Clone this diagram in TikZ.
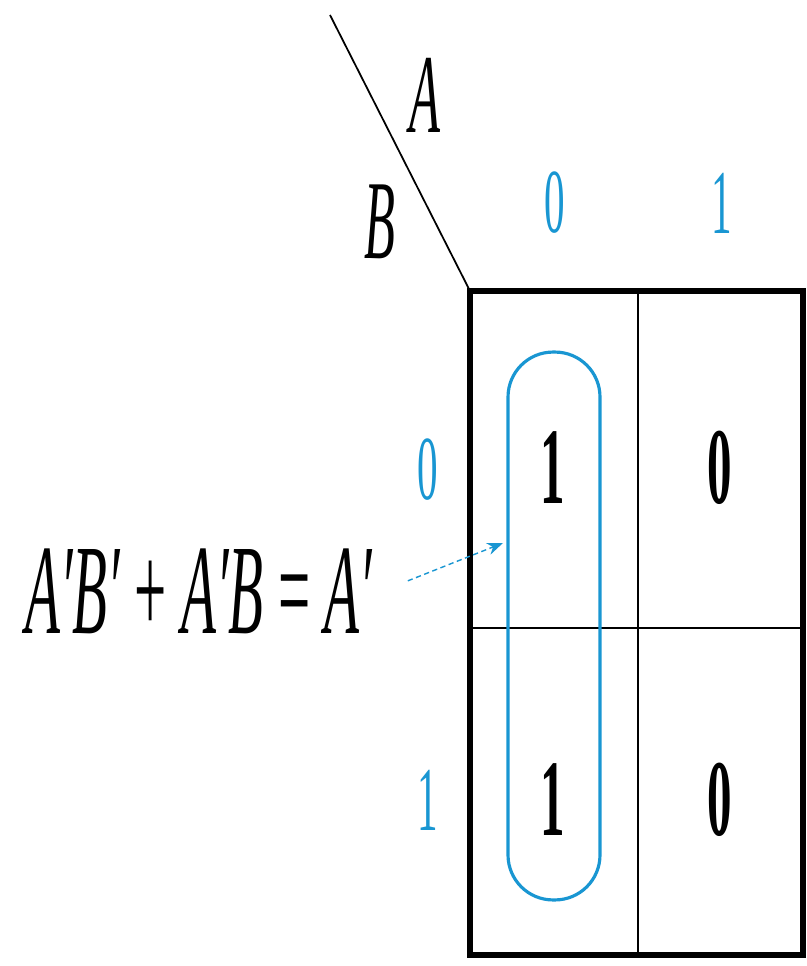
\documentclass[tikz,border=0pt]{standalone}
\usepackage{fontspec}
\setmainfont{Liberation Serif}
\usetikzlibrary{arrows.meta, positioning}
\definecolor{mapblue}{RGB}{25, 150, 210}

\begin{document}
\begin{tikzpicture}[
    x=0.02cm, y=-0.02cm,
    narrow/.style={xscale=0.45, inner sep=0pt},
    varlbl/.style={narrow, font=\fontsize{64}{70}\selectfont\itshape},
    headlbl/.style={narrow, font=\fontsize{52}{58}\selectfont, text=mapblue},
    cellval/.style={narrow, font=\fontsize{62}{68}\selectfont\bfseries},
    grouploop/.style={draw=mapblue, line width=1.8pt, rounded corners=0.9cm, minimum width=1.84cm, minimum height=10.96cm},
    arr/.style={-{Stealth[length=9pt, width=7pt]}, thick, densely dashed, color=mapblue}
  ]
  \useasboundingbox (0,0) rectangle (807,966);

  % map frame
  \draw[line width=1pt] (330,15) -- (470,291);
  \draw[line width=1.5pt] (638,291) -- (638,955);
  \draw[line width=1.5pt] (470,628) -- (803,628);
  \draw[line width=3.2pt] (470,291) rectangle (803,955);

  % variables and headers
  \node[varlbl] (varA) at (425,95) {A};
  \node[varlbl] (varB) at (380,222) {B};
  \node[headlbl] (col0) at (555,203) {0};
  \node[headlbl] (col1) at (722,203) {1};
  \node[headlbl] (row0) at (428,470) {0};
  \node[headlbl] (row1) at (428,800) {1};

  % cells
  \node[cellval] (m00) at (553,468) {1};
  \node[cellval] (m01) at (720,468) {0};
  \node[cellval] (m10) at (553,800) {1};
  \node[cellval] (m11) at (720,800) {0};

  % grouping
  \node[grouploop] (grp) at (554,626) {};
  \node[narrow, xscale=0.99, font=\fontsize{73}{80}\selectfont, anchor=base west] (eq) at (25,633)
    {\textit{A′B′} + \textit{A′B} = \textit{A′}};
  \coordinate (tip) at (503,543);
  \draw[arr] ([xshift=0.7cm, yshift=0.2cm]eq.east) -- (tip);
\end{tikzpicture}
\end{document}
